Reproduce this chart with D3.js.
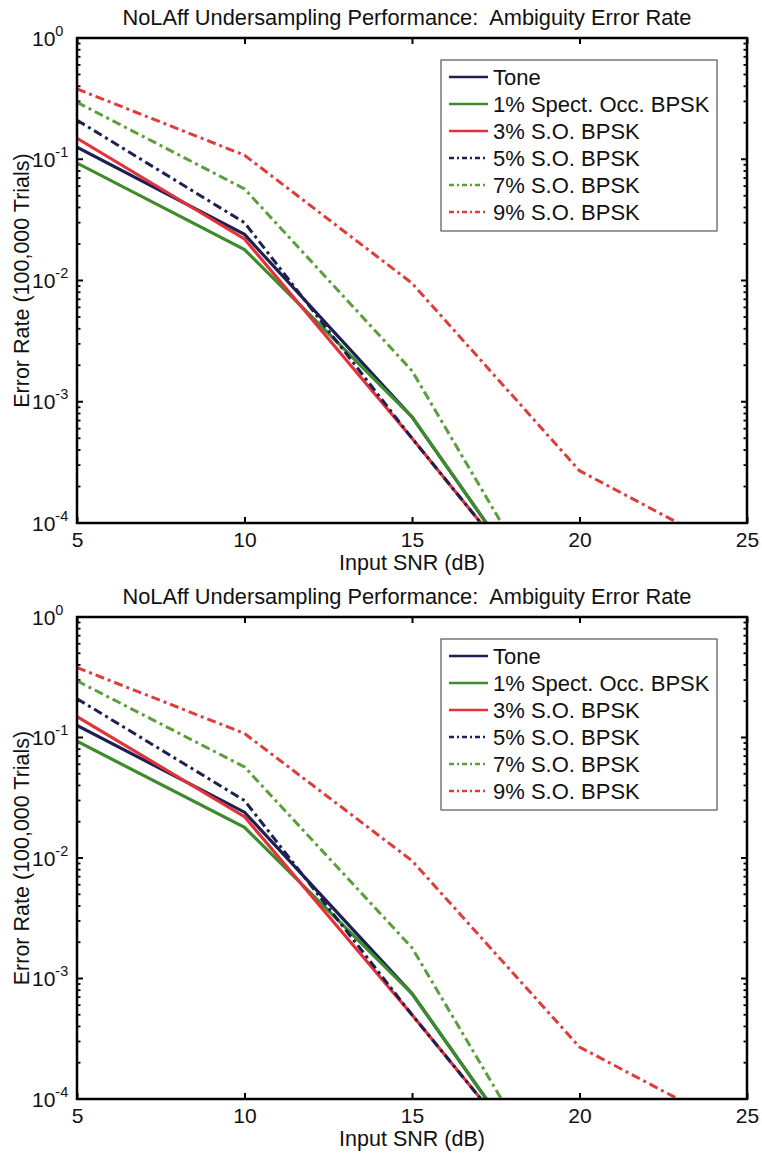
<!DOCTYPE html>
<html><head>
<meta charset="utf-8">
<script src="https://d3js.org/d3.v7.min.js"></script>
<style>
  body { margin: 0; background: #fff; }
  text { font-family: "Liberation Sans", Arial, sans-serif; fill: #111; }
  .frame { fill: none; stroke: #000; stroke-width: 2.5px; }
  .axis path { display: none; }
  .axis line { stroke: #000; stroke-width: 2px; }
  .axis text { font-size: 21px; }
</style>
</head>
<body>
<svg id="chart" width="762" height="1154"></svg>
<script>

// data (error rate per input SNR)
const snr = [5, 10, 15, 20, 25];
const toneRate = [0.126, 0.024, 7.5e-4, 8e-6];
const so1Rate  = [0.093, 0.018, 7.5e-4, 8e-6];
const so3Rate  = [0.149, 0.022, 5.0e-4, 1e-5];
const so5Rate  = [0.21,  0.030, 5.0e-4, 1e-5];
const so7Rate  = [0.295, 0.057, 1.8e-3, 8e-6];
const so9Rate  = [0.38,  0.108, 9.5e-3, 2.7e-4, 5e-5];

const seriesNames = ["Tone", "1% Spect. Occ. BPSK", "3% S.O. BPSK", "5% S.O. BPSK", "7% S.O. BPSK", "9% S.O. BPSK"];
const seriesRates = [toneRate, so1Rate, so3Rate, so5Rate, so7Rate, so9Rate];
const seriesColors = ["#1d2052", "#3c8c2c", "#e2333a", "#1d2052", "#5c9e3c", "#e03c3c"];
const seriesDash = [null, null, null, "9,4,3,4", "9,4,3,4", "9,4,3,4"];

const xTicks = [5, 10, 15, 20, 25];
const yExponents = [0, -1, -2, -3, -4];

const titleText = "NoLAff Undersampling Performance:  Ambiguity Error Rate";
const xLabel = "Input SNR (dB)";
const yLabel = "Error Rate (100,000 Trials)";

const svg = d3.select("#chart");
const left = 77, right = 747;

// two identical panels stacked
const panels = [{ top: 38, bottom: 523 }, { top: 617, bottom: 1099 }];

const x = d3.scaleLinear().domain([5, 25]).range([left, right]);

// minor ticks at 2..9 of every decade
const minorTicks = [];
for (let e = -4; e < 0; e++) {
  for (let m = 2; m <= 9; m++) minorTicks.push(m * Math.pow(10, e));
}

panels.forEach((p, pi) => {
  const y = d3.scaleLog().domain([1e-4, 1]).range([p.bottom, p.top]);
  const g = svg.append("g");

  const clipId = "clip" + pi;
  g.append("clipPath").attr("id", clipId)
    .append("rect")
    .attr("x", left).attr("y", p.top)
    .attr("width", right - left).attr("height", p.bottom - p.top);

  // title
  g.append("text")
    .attr("x", 407)
    .attr("y", p.top - 13)
    .attr("text-anchor", "middle")
    .style("font-size", "21.8px")
    .style("white-space", "pre")
    .text(titleText);

  // x axis (bottom, with labels) and top ticks
  g.append("g").attr("class", "axis")
    .attr("transform", "translate(0," + p.bottom + ")")
    .call(d3.axisBottom(x).tickValues(xTicks).tickSizeInner(-6).tickSizeOuter(0).tickPadding(9));
  g.append("g").attr("class", "axis")
    .attr("transform", "translate(0," + p.top + ")")
    .call(d3.axisTop(x).tickValues(xTicks).tickSizeInner(-6).tickSizeOuter(0).tickFormat(""));

  // y ticks on both sides: majors and minors
  const majors = yExponents.map(e => Math.pow(10, e));
  [[left, 1], [right, -1]].forEach(([xx, dir]) => {
    g.selectAll(null).data(majors).join("line")
      .attr("x1", xx).attr("x2", xx + dir * 6)
      .attr("y1", d => y(d)).attr("y2", d => y(d))
      .attr("stroke", "#000").attr("stroke-width", 2);
    g.selectAll(null).data(minorTicks).join("line")
      .attr("x1", xx).attr("x2", xx + dir * 3.5)
      .attr("y1", d => y(d)).attr("y2", d => y(d))
      .attr("stroke", "#000").attr("stroke-width", 1.8);
  });

  // y tick labels 10^n
  const yl = g.selectAll("text.ylab").data(yExponents).join("text")
    .attr("class", "ylab")
    .attr("x", 32)
    .attr("y", d => y(Math.pow(10, d)) + 7.5)
    .style("font-size", "21px");
  yl.append("tspan").text("10");
  yl.append("tspan").attr("dy", -10).style("font-size", "14.5px").text(d => d);

  // axis labels
  g.append("text")
    .attr("x", (left + right) / 2)
    .attr("y", p.bottom + 47)
    .attr("text-anchor", "middle")
    .style("font-size", "21.5px")
    .text(xLabel);
  g.append("text")
    .attr("transform", "translate(29," + ((p.top + p.bottom) / 2) + ") rotate(-90)")
    .attr("text-anchor", "middle")
    .style("font-size", "21.5px")
    .text(yLabel);

  // lines
  const line = d3.line().x((d, i) => x(snr[i])).y(d => y(d));
  const lines = g.append("g").attr("clip-path", "url(#" + clipId + ")");
  seriesRates.forEach((rates, i) => {
    lines.append("path")
      .attr("d", line(rates))
      .attr("fill", "none")
      .attr("stroke", seriesColors[i])
      .attr("stroke-width", seriesDash[i] ? 3 : 3.2)
      .attr("stroke-dasharray", seriesDash[i]);
  });

  // frame
  g.append("rect").attr("class", "frame")
    .attr("x", left).attr("y", p.top)
    .attr("width", right - left).attr("height", p.bottom - p.top);

  // legend
  const lg = g.append("g").attr("transform", "translate(441," + (p.top + 22) + ")");
  lg.append("rect")
    .attr("width", 276).attr("height", 171)
    .attr("fill", "#fff").attr("stroke", "#555").attr("stroke-width", 1.2);
  seriesNames.forEach((name, i) => {
    const ry = 17 + i * 27;
    lg.append("line")
      .attr("x1", 8).attr("x2", 47).attr("y1", ry).attr("y2", ry)
      .attr("stroke", seriesColors[i])
      .attr("stroke-width", seriesDash[i] ? 2.4 : 2.6)
      .attr("stroke-dasharray", seriesDash[i] ? "5,3,2,3" : null);
    lg.append("text")
      .attr("x", 52).attr("y", ry + 7.5)
      .style("font-size", "22px")
      .text(name);
  });
});

</script>
</body>
</html>
